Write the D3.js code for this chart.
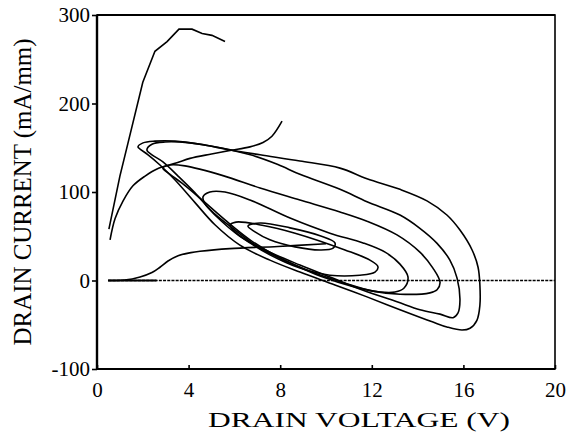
<!DOCTYPE html>
<html>
<head>
<meta charset="utf-8">
<script src="https://cdn.jsdelivr.net/npm/d3@7"></script>
<style>
  body { margin: 0; background: #fff; }
  text { font-family: "Liberation Serif", "Times New Roman", serif; fill: #000; }
</style>
</head>
<body>
<svg id="chart" width="569" height="433"></svg>
<script>
// Axis setup
const xTicks = [0, 4, 8, 12, 16, 20];
const yTicks = [-100, 0, 100, 200, 300];
const xTitle = "DRAIN VOLTAGE (V)";
const yTitle = "DRAIN CURRENT (mA/mm)";

// Static sweeps: [drain voltage (V), drain current (mA/mm)]
const sweepHigh = [[0.52, 58], [1.0, 118], [1.35, 155], [2.0, 224], [2.53, 259], [3.06, 270],
  [3.58, 284], [4.15, 284], [4.59, 279], [5.02, 277], [5.59, 270]];
const sweepMid = [[0.57, 46], [0.79, 70], [1.14, 90], [1.57, 107], [2.1, 118], [2.62, 126],
  [3.49, 133], [4.06, 138], [5.0, 143], [5.81, 147], [6.68, 151], [7.25, 156], [7.64, 163], [8.08, 180]];
const sweepLow = [[0.48, 0], [1.2, 0.5], [1.88, 4], [2.4, 9], [2.75, 15], [3.1, 22], [3.54, 28],
  [4.1, 31.5], [4.5, 33], [5.8, 36], [7.9, 38.5], [10.0, 41.5]];
const sweepOff = [[0.48, 0], [2.6, 0]];

// Dynamic load-line loops, largest drive first
const loop1 = [[1.79, 151], [2.01, 155.5], [2.53, 157.5], [3.41, 157.5], [4.5, 154], [5.81, 147.5],
  [7.12, 142], [8.86, 135], [10.61, 127], [11.79, 115], [13.23, 103], [14.41, 90], [15.28, 74],
  [15.85, 57], [16.38, 34.5], [16.64, 15], [16.72, -5], [16.72, -28], [16.59, -45], [16.29, -54],
  [15.94, -56], [15.28, -52.5], [14.67, -47], [13.23, -33], [11.79, -18.5], [10.39, -5], [8.86, 9.5],
  [7.55, 23], [6.24, 40], [5.15, 63], [4.28, 88], [3.41, 113.5], [2.75, 130.5], [2.23, 142], [1.88, 148.5]];
const loop2 = [[2.18, 147.5], [2.4, 154], [2.97, 156.5], [4.06, 155.5], [5.37, 150], [6.7, 142],
  [7.9, 131], [8.86, 120], [10.61, 103], [11.79, 89], [13.23, 74], [14.1, 59], [14.85, 42],
  [15.41, 23], [15.72, 3], [15.85, -22], [15.76, -37], [15.55, -42], [14.98, -38], [14.1, -33],
  [13.1, -24], [11.62, -11], [10.17, 4], [8.86, 17.5], [7.55, 32], [6.24, 50], [5.15, 74],
  [4.28, 99], [3.54, 118], [2.88, 134], [2.4, 142]];
const loop3 = [[2.88, 127], [3.19, 130.5], [3.84, 129.5], [5.5, 118.5], [7.12, 104.5], [8.86, 91],
  [10.61, 77.5], [11.79, 67], [13.1, 51.5], [14.1, 32], [14.67, 14], [14.98, -2], [14.85, -10.5],
  [14.54, -14], [13.23, -15.5], [12.05, -12], [10.83, -3], [9.3, 10.5], [7.99, 25.5], [6.68, 46],
  [5.59, 68.5], [4.5, 93], [3.71, 110], [3.19, 120]];
const loop4 = [[4.63, 94.5], [4.93, 100], [5.59, 100], [6.68, 91], [8.43, 70.5], [10.17, 53.5],
  [11.62, 42.5], [12.58, 32], [13.23, 18.5], [13.58, 4], [13.41, -8.5], [13.01, -13], [12.36, -13],
  [11.27, -7.5], [9.74, 5], [8.43, 20], [7.12, 36.5], [6.03, 57], [5.15, 75], [4.72, 86.5]];
const loop5 = [[5.81, 62.5], [6.07, 66], [7.21, 62.5], [8.65, 53.5], [10.83, 34.5], [11.92, 23],
  [12.27, 15.5], [12.14, 9.5], [11.48, 6], [10.17, 6], [8.86, 14], [7.55, 29], [6.68, 42.5], [6.03, 55]];
const loop6 = [[6.59, 61.5], [7.12, 65], [8.43, 59.5], [9.74, 50.5], [10.39, 42.5], [10.31, 36.5],
  [9.74, 34.5], [8.65, 38], [7.55, 46], [6.9, 55]];
const loops = [loop1, loop2, loop3, loop4, loop5, loop6];

// Zero-current reference
const zeroLine = [[0.5, 0], [20, 0]];

const svg = d3.select("#chart");
const margin = { left: 97, right: 14, top: 15, bottom: 64 };
const W = 569, H = 433;

const x = d3.scaleLinear().domain([0, 20]).range([margin.left, W - margin.right]);
const y = d3.scaleLinear().domain([-100, 300]).range([H - margin.bottom, margin.top]);

// Frame
svg.append("rect")
  .attr("x", x(0)).attr("y", y(300))
  .attr("width", x(20) - x(0)).attr("height", y(-100) - y(300))
  .attr("fill", "none").attr("stroke", "#000").attr("stroke-width", 1.6);
svg.append("line")
  .attr("x1", x(0)).attr("x2", x(0)).attr("y1", y(300)).attr("y2", y(-100))
  .attr("stroke", "#000").attr("stroke-width", 2.4);
svg.append("line")
  .attr("x1", x(0)).attr("x2", x(20)).attr("y1", y(300)).attr("y2", y(300))
  .attr("stroke", "#000").attr("stroke-width", 2.2);
svg.append("line")
  .attr("x1", x(0)).attr("x2", x(20)).attr("y1", y(-100)).attr("y2", y(-100))
  .attr("stroke", "#000").attr("stroke-width", 2.2);

// Axes (plain hyphen for negative labels)
const fmt = d => String(d);
const xAxis = d3.axisBottom(x).tickValues(xTicks).tickSize(-4).tickPadding(13).tickFormat(fmt);
const yAxis = d3.axisLeft(y).tickValues(yTicks).tickSize(5).tickPadding(2).tickFormat(fmt);

const gx = svg.append("g").attr("transform", `translate(0,${y(-100)})`).call(xAxis);
const gy = svg.append("g").attr("transform", `translate(${x(0)},0)`).call(yAxis);
[gx, gy].forEach(g => {
  g.select(".domain").remove();
  g.selectAll(".tick line").attr("stroke", "#000").attr("stroke-width", 1.6);
  g.selectAll(".tick text").style("font-size", "21px").style("font-family", "Liberation Serif");
});

// Titles
svg.append("text")
  .attr("x", 359).attr("y", 427)
  .attr("text-anchor", "middle")
  .attr("textLength", 302).attr("lengthAdjust", "spacingAndGlyphs")
  .style("font-size", "22px")
  .text(xTitle);
svg.append("text")
  .attr("transform", `translate(31,${(y(300) + y(-100)) / 2}) rotate(-90)`)
  .attr("text-anchor", "middle")
  .attr("textLength", 307).attr("lengthAdjust", "spacingAndGlyphs")
  .style("font-size", "25px")
  .text(yTitle);

// Curves
const open = d3.line().x(d => x(d[0])).y(d => y(d[1])).curve(d3.curveCatmullRom.alpha(0.5));
const jag = d3.line().x(d => x(d[0])).y(d => y(d[1]));
const closed = d3.line().x(d => x(d[0])).y(d => y(d[1])).curve(d3.curveCatmullRomClosed.alpha(0.5));

const plot = svg.append("g").attr("fill", "none").attr("stroke", "#000");

plot.append("path").attr("d", jag(zeroLine))
  .attr("stroke-width", 1.3).attr("stroke-dasharray", "3,1.2");

plot.append("path").attr("d", jag(sweepHigh)).attr("stroke-width", 1.6);
plot.append("path").attr("d", open(sweepMid)).attr("stroke-width", 1.6);
plot.append("path").attr("d", open(sweepLow)).attr("stroke-width", 1.6);
plot.append("path").attr("d", jag(sweepOff)).attr("stroke-width", 2);

plot.selectAll("path.loop").data(loops).join("path")
  .attr("class", "loop")
  .attr("d", d => closed(d))
  .attr("stroke-width", 1.6);
</script>
</body>
</html>
